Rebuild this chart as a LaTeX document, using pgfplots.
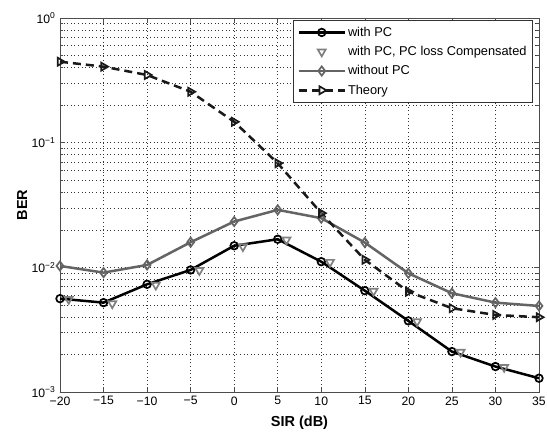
\documentclass[border=0pt]{standalone}
\usepackage{fontspec}
\setmainfont{Liberation Sans}
\usepackage{pgfplots}
\pgfplotsset{compat=1.18}
\definecolor{cgray}{RGB}{128,128,128}
\definecolor{dgray}{RGB}{100,100,100}
\begin{document}
\begin{tikzpicture}[x=1pt,y=1pt]
\begin{axis}[at={(0,0)},anchor=south west, scale only axis, width=479pt, height=374pt,
 xmin=-20,xmax=35, ymode=log, ymin=1e-3, ymax=1,
 xtick={-20,-15,...,35}, xticklabels={−20,−15,−10,−5,0,5,10,15,20,25,30,35},
 ytick={1e-3,1e-2,1e-1,1}, yticklabels={10\textsuperscript{−3},10\textsuperscript{−2},10\textsuperscript{−1},10\textsuperscript{0}},
 grid=both,
 major grid style={dash pattern=on 0.8pt off 2.8pt, black!80, line width=0.6pt},
 minor grid style={dash pattern=on 0.8pt off 2.8pt, black!80, line width=0.6pt},
 axis line style={black!70, line width=0.8pt}, tick style={black!70, line width=0.6pt},
 major tick length=5pt, minor tick length=3pt,
 tick label style={font=\fontsize{12.2}{14}\selectfont},
 xticklabel style={yshift=-1pt},
 yticklabel style={xshift=-1pt},
 xlabel={\bfseries SIR (dB)}, ylabel={\bfseries BER},
 label style={font=\fontsize{14.5}{16}\selectfont},
 xlabel style={at={(axis description cs:0.5,-0.083)}, anchor=center},
 ylabel style={at={(axis description cs:-0.079,0.5)}, anchor=center},
 legend image code/.code={\draw[mark repeat=2,mark phase=2,#1] plot coordinates {(0pt,0pt)(23pt,0pt)(46pt,0pt)};},
 legend cell align=left,
 legend style={at={(rel axis cs:0.987,0.995)}, anchor=north east, font=\fontsize{12.8}{14}\selectfont,
   draw=black!80, row sep=4.5pt, inner xsep=4pt, inner ysep=5pt},
]
\addplot[black, line width=2.5pt, mark=o, mark size=3.8pt, mark options={line width=1.7pt}] coordinates {
(-20,0.00561) (-15,0.00521) (-10,0.00731) (-5,0.00953) (0,0.0149) (5,0.0168)
(10,0.0111) (15,0.0065) (20,0.00372) (25,0.00211) (30,0.0016) (35,0.00129)};
\addlegendentry{with PC}
\addplot[cgray, only marks, mark=triangle, mark size=4.6pt, mark options={rotate=180, line width=1.7pt}] coordinates {
(-19,0.00555) (-14,0.00512) (-9,0.00722) (-4,0.00945) (1,0.0147) (6,0.0166)
(11,0.0110) (16,0.00645) (21,0.00368) (26,0.00209) (31,0.00158)};
\addlegendentry{with PC, PC loss Compensated}
\addplot[dgray, line width=2.5pt, mark=diamond, mark size=4.6pt, mark options={line width=1.7pt}] coordinates {
(-20,0.01026) (-15,0.00907) (-10,0.01045) (-5,0.0159) (0,0.0233) (5,0.0289)
(10,0.0248) (15,0.0158) (20,0.00896) (25,0.0062) (30,0.00521) (35,0.0049)};
\addlegendentry{without PC}
\addplot[black!90, line width=2.5pt, dash pattern=on 8pt off 5pt, mark=triangle, mark size=4.6pt, mark options={solid, rotate=-90, line width=1.7pt}] coordinates {
(-20,0.446) (-15,0.407) (-10,0.349) (-5,0.256) (0,0.147) (5,0.0684)
(10,0.0272) (15,0.0115) (20,0.00638) (25,0.0047) (30,0.00415) (35,0.00398)};
\addlegendentry{Theory}
\end{axis}
\pgfresetboundingbox
\path[use as bounding box] (-60,-41) rectangle (487,392);
\end{tikzpicture}
\end{document}
